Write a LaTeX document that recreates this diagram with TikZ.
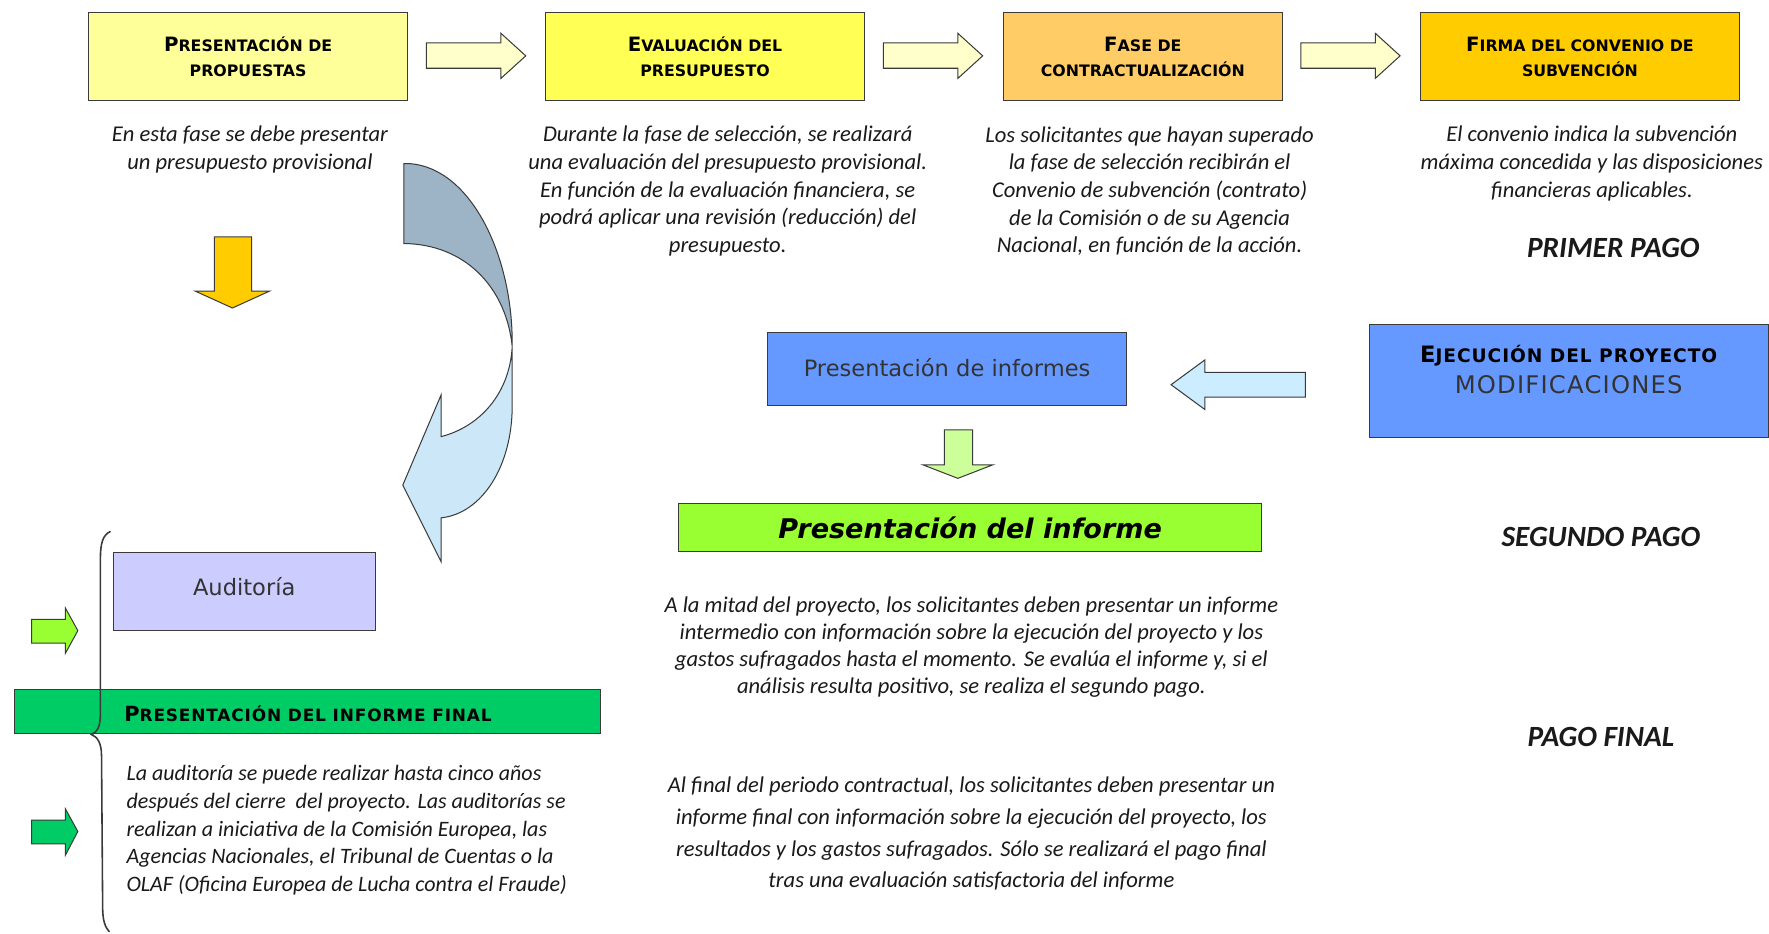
\documentclass[tikz,border=0pt]{standalone}
\usepackage{fontspec}
\setmainfont{Carlito}
\newfontfamily\vfont{DejaVu Sans}
\newfontfamily\vfontw[LetterSpace=5]{DejaVu Sans}
\usetikzlibrary{calc}
\definecolor{cB1}{HTML}{FFFF99}
\definecolor{cB2}{HTML}{FFFF55}
\definecolor{cB3}{HTML}{FFCC66}
\definecolor{cB4}{HTML}{FFCC00}
\definecolor{cArr}{HTML}{FFFFCC}
\definecolor{cBlue}{HTML}{6699FF}
\definecolor{cLav}{HTML}{CCCCFF}
\definecolor{cLBlue}{HTML}{CCECFF}
\definecolor{cLGreen}{HTML}{CCFF99}
\definecolor{cLime}{HTML}{99FF33}
\definecolor{cGreen}{HTML}{00CC66}
\definecolor{cCurvTop}{HTML}{9DB3C6}
\definecolor{cCurvBot}{HTML}{CCE8F8}
\definecolor{cLine}{HTML}{3A3A3A}
\definecolor{cTxt}{HTML}{1A1A1A}
\newcommand\hsc[3]{{\fontsize{#3}{#3}\selectfont #1}#2}
\tikzset{
  stage/.style={draw=cLine, line width=0.9pt, inner sep=0pt, anchor=north west, align=center,
    font=\vfont\bfseries\fontsize{14}{22}\selectfont},
  plainbox/.style={draw=cLine, line width=0.9pt, inner sep=0pt, anchor=north west, align=center,
    text=black!80, font=\vfont\fontsize{20}{22}\selectfont},
  desc/.style={align=center, inner sep=0pt, text=cTxt, font=\itshape\fontsize{20}{24.5}\selectfont},
  blockarrow/.style={draw=cLine, line width=0.9pt, line join=miter},
  pago/.style={inner sep=0pt, text=cTxt, font=\bfseries\itshape\fontsize{26}{28}\selectfont},
}
\begin{document}
\begin{tikzpicture}[x=1pt,y=-1pt]
\useasboundingbox[fill=white] (0,0) rectangle (1568,827);

% top row stages
\node[stage, fill=cB1, minimum width=283pt, minimum height=78pt] (b1) at (78,11)
  {\hsc{P}{RESENTACIÓN DE}{17.5}\\PROPUESTAS};
\node[stage, fill=cB2, minimum width=283pt, minimum height=78pt] (b2) at (483,11)
  {\hsc{E}{VALUACIÓN DEL}{17.5}\\PRESUPUESTO};
\node[stage, fill=cB3, minimum width=247pt, minimum height=78pt] (b3) at (889,11)
  {\hsc{F}{ASE DE}{17.5}\\CONTRACTUALIZACIÓN};
\node[stage, fill=cB4, minimum width=282pt, minimum height=78pt] (b4) at (1259,11)
  {\hsc{F}{IRMA DEL CONVENIO DE}{17.5}\\SUBVENCIÓN};

% block arrows between stages
\draw[blockarrow, fill=cArr] (378,38) -- (444,38) -- (444,29.5) -- (466,49.5) -- (444,69.5) -- (444,60.5) -- (378,60.5) -- cycle;
\draw[blockarrow, fill=cArr] (783,38) -- (849,38) -- (849,29.5) -- (871,49.5) -- (849,69.5) -- (849,60.5) -- (783,60.5) -- cycle;
\draw[blockarrow, fill=cArr] (1153,38) -- (1219,38) -- (1219,29.5) -- (1241,49.5) -- (1219,69.5) -- (1219,60.5) -- (1153,60.5) -- cycle;

% descriptions
\node[desc] (d1) at (221.5,132.5) {En esta fase se debe presentar\\un presupuesto provisional};
\node[desc] (d2) at (645,169.5) {Durante la fase de selección, se realizará\\una evaluación del presupuesto provisional.\\En función de la evaluación financiera, se\\podrá aplicar una revisión (reducción) del\\presupuesto.};
\node[desc] (d3) at (1019,169.5) {Los solicitantes que hayan superado\\la fase de selección recibirán el\\Convenio de subvención (contrato)\\de la Comisión o de su Agencia\\Nacional, en función de la acción.};
\node[desc] (d4) at (1411,145) {El convenio indica la subvención\\máxima concedida y las disposiciones\\financieras aplicables.};
\node[pago] (p1) at (1430,220) {PRIMER PAGO};

% yellow down arrow
\draw[blockarrow, fill=cB4] (190,210) -- (223,210) -- (223,258) -- (239,258) -- (206,273) -- (173,258) -- (190,258) -- cycle;

% curved arrow
\draw[blockarrow, fill=cCurvTop] (358,145) -- (363,145) .. controls (418,149) and (455,228) .. (454,307)
  .. controls (449,258) and (416,219) .. (363,216) -- (358,216) -- cycle;
\draw[blockarrow, fill=cCurvBot] (454,307) -- (454,360) .. controls (454,412) and (428,455) .. (391,459)
  -- (391,498) -- (357,430) -- (391,350) -- (391,387) .. controls (426,378) and (452,348) .. (454,307) -- cycle;

% middle: reports
\node[plainbox, fill=cBlue, minimum width=318pt, minimum height=65pt] (inf) at (680,294) {\raisebox{2pt}{Presentación de informes}};
\node[draw=cLine, line width=0.9pt, fill=cBlue, inner sep=0pt, anchor=north west, minimum width=354pt, minimum height=100pt] (ejec) at (1213,287) {};
\node[align=center, inner sep=0pt, font=\vfontw\bfseries\fontsize{16.5}{27}\selectfont] (ejtxt) at ($(ejec.center)+(0,-10)$)
  {\hsc{E}{JECUCIÓN DEL PROYECTO}{20}\\{\vfontw\mdseries\color{black!80}\fontsize{21.5}{27}\selectfont MODIFICACIONES}};
\draw[blockarrow, fill=cLBlue] (1157,330) -- (1068,330) -- (1068,319) -- (1038,341) -- (1068,363) -- (1068,352) -- (1157,352) -- cycle;
\draw[blockarrow, fill=cLGreen] (837,381) -- (862,381) -- (862,412) -- (880,412) -- (849,424) -- (818,412) -- (837,412) -- cycle;
\node[draw=cLine, line width=0.9pt, fill=cLime, inner sep=0pt, anchor=north west, minimum width=517pt, minimum height=42pt,
  font=\vfont\bfseries\itshape\fontsize{24}{26}\selectfont] (ibar) at (601,446) {\raisebox{-7pt}{Presentación del informe}};
\node[pago] (p2) at (1419,476) {SEGUNDO PAGO};
\node[desc, font=\itshape\fontsize{20}{23.7}\selectfont] (d5) at (861,573.5) {A la mitad del proyecto, los solicitantes deben presentar un informe\\intermedio con información sobre la ejecución del proyecto y los\\gastos sufragados hasta el momento. Se evalúa el informe y, si el\\análisis resulta positivo, se realiza el segundo pago.};
\node[pago] (p3) at (1419,653) {PAGO FINAL};
\node[desc, font=\itshape\fontsize{20}{28}\selectfont] (d6) at (861,739) {Al final del periodo contractual, los solicitantes deben presentar un\\informe final con información sobre la ejecución del proyecto, los\\resultados y los gastos sufragados. Sólo se realizará el pago final\\tras una evaluación satisfactoria del informe};

% bottom left: audit
\node[plainbox, fill=cLav, minimum width=232pt, minimum height=69pt] (aud) at (100,489) {\raisebox{8pt}{Auditoría}};
\node[draw=cLine, line width=0.9pt, fill=cGreen, inner sep=0pt, anchor=north west, minimum width=520pt, minimum height=39pt] (fbar) at (12,611) {};
\node[anchor=west, inner sep=0pt, font=\vfontw\bfseries\fontsize{15}{18}\selectfont] (fbtxt) at ($(fbar.west)+(98,2)$)
  {\hsc{P}{RESENTACIÓN DEL INFORME FINAL}{18.5}};
\draw[blockarrow, fill=cLime] (28,549) -- (58,549) -- (58,539) -- (69,559) -- (58,579) -- (58,570) -- (28,570) -- cycle;
\draw[blockarrow, fill=cGreen] (28,727) -- (58,727) -- (58,717) -- (69,737) -- (58,758) -- (58,748) -- (28,748) -- cycle;
\draw[line width=1.4pt, cLine] (98,471) .. controls (91,474) and (89,482) .. (89,495) -- (89,632)
  .. controls (89,645) and (86,649) .. (81,651) .. controls (86,653) and (90,658) .. (90,670)
  -- (91,805) .. controls (91,815) and (93,822) .. (97,826);
\node[anchor=west, align=left, inner sep=0pt, text=cTxt, font=\itshape\fontsize{19.5}{24.5}\selectfont] (d7) at (112,736)
  {La auditoría se puede realizar hasta cinco años\\después del cierre\ \ del proyecto. Las auditorías se\\realizan a iniciativa de la Comisión Europea, las\\Agencias Nacionales, el Tribunal de Cuentas o la\\OLAF (Oficina Europea de Lucha contra el Fraude)};
\end{tikzpicture}
\end{document}
